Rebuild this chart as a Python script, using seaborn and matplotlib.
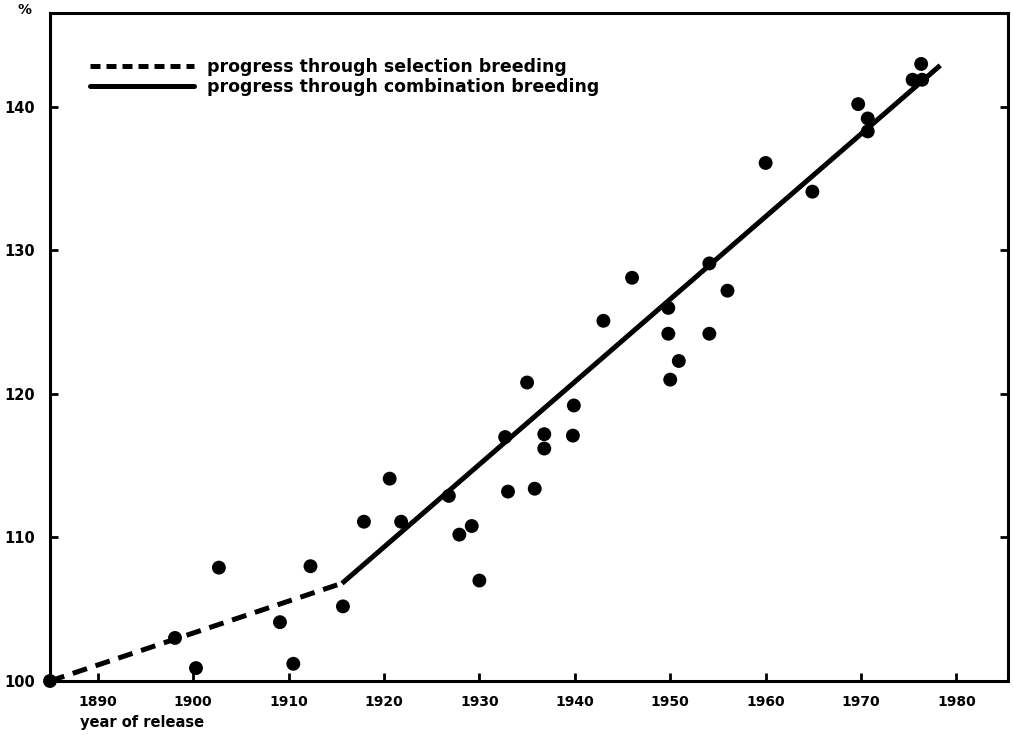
import matplotlib
matplotlib.use("Agg")
import matplotlib.pyplot as plt
import seaborn as sns
import pandas as pd
from matplotlib.lines import Line2D

# ---- data ----
release_years = [1885, 1898.1, 1900.3, 1902.7, 1909.1, 1910.5, 1912.3, 1915.7,
                 1917.9, 1920.6, 1921.8, 1926.8, 1927.9, 1929.2, 1930.0,
                 1932.7, 1933.0, 1935.0, 1935.8, 1936.8, 1936.8, 1939.8, 1939.9,
                 1943.0, 1946.0, 1949.8, 1949.8, 1950.0, 1950.9, 1954.1, 1954.1,
                 1956.0, 1960.0, 1964.9, 1969.7, 1970.7, 1970.7, 1975.4, 1976.3,
                 1976.4]
relative_yield = [100.0, 103.0, 100.9, 107.9, 104.1, 101.2, 108.0, 105.2,
                  111.1, 114.1, 111.1, 112.9, 110.2, 110.8, 107.0,
                  117.0, 113.2, 120.8, 113.4, 117.2, 116.2, 117.1, 119.2,
                  125.1, 128.1, 124.2, 126.0, 121.0, 122.3, 129.1, 124.2,
                  127.2, 136.1, 134.1, 140.2, 139.2, 138.3, 141.9, 143.0,
                  141.9]

selection_years = [1885, 1915.1]
selection_values = [100.0, 106.7]
combination_years = [1915.6, 1978.3]
combination_values = [106.8, 142.9]

x_ticks = [1890, 1900, 1910, 1920, 1930, 1940, 1950, 1960, 1970, 1980]
y_ticks = [100, 110, 120, 130, 140]

legend_labels = ["progress through selection breeding",
                 "progress through combination breeding"]

# ---- styling ----
sns.set_theme(style="ticks")
plt.rcParams["font.family"] = ["DejaVu Sans"]
plt.rcParams["font.weight"] = "bold"
plt.rcParams["text.color"] = "black"

fig = plt.figure(figsize=(10.13, 7.35), dpi=100)
ax = fig.add_axes([50 / 1013, 1 - 681 / 735, (1008 - 50) / 1013, (681 - 13) / 735])

df = pd.DataFrame({"year": release_years, "yield": relative_yield})
sel = pd.DataFrame({"year": selection_years, "yield": selection_values})
comb = pd.DataFrame({"year": combination_years, "yield": combination_values})

lw = 3.6
dash = (0, (3.0, 1.8))
sns.lineplot(data=sel, x="year", y="yield", ax=ax, color="black", lw=lw,
             linestyle=dash, clip_on=False, zorder=3)
sns.lineplot(data=comb, x="year", y="yield", ax=ax, color="black", lw=lw,
             solid_capstyle="butt", zorder=3)
sns.scatterplot(data=df, x="year", y="yield", ax=ax, color="black", s=100,
                edgecolor="none", clip_on=False, zorder=4)

ax.set_xlim(1885, 1985.4)
ax.set_ylim(100, 146.55)
ax.set_xticks(x_ticks)
ax.set_yticks(y_ticks)
ax.set_xticklabels([str(t) for t in x_ticks], fontsize=10, fontweight="bold")
ax.set_yticklabels([str(t) for t in y_ticks], fontsize=10.5, fontweight="bold")
ax.set_xlabel("")
ax.set_ylabel("")

for s in ax.spines.values():
    s.set_linewidth(2.2)
    s.set_color("black")

ax.tick_params(axis="both", direction="in", length=6, width=2, colors="black",
               labelcolor="black")
ax.tick_params(axis="x", pad=10)
ax.tick_params(axis="y", pad=11, right=True)

fig.text(18 / 1013, 1 - 10 / 735, "%", fontsize=10, fontweight="bold",
         ha="left", va="center", color="black")
fig.text(80 / 1013, 1 - 723 / 735, "year of release", fontsize=10.5,
         fontweight="bold", ha="left", va="center", color="black")

handles = [Line2D([], [], color="black", lw=lw, linestyle=(0, (2.0, 1.2))),
           Line2D([], [], color="black", lw=lw)]
leg = ax.legend(handles, legend_labels, loc="upper left",
                bbox_to_anchor=(33 / 958, 1 - 38 / 668), frameon=False,
                handlelength=6.0, handletextpad=0.75,
                labelspacing=0.1, borderaxespad=0,
                prop={"weight": "bold", "size": 12.5})
for t in leg.get_texts():
    t.set_color("black")

fig.savefig("out.png", dpi=100, facecolor="white")
